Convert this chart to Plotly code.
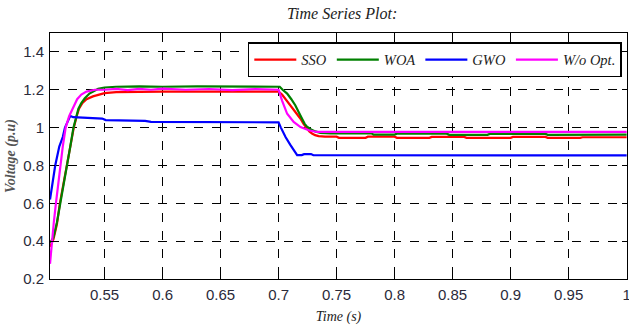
import plotly.graph_objects as go

# ---- data ----
sso_t = [0.503, 0.506, 0.509, 0.5115, 0.5145, 0.5175, 0.5205, 0.5235, 0.526, 0.528, 0.531, 0.5345, 0.54, 0.545,
         0.55, 0.56, 0.58, 0.60, 0.63, 0.66, 0.69, 0.700, 0.703, 0.706, 0.709, 0.7117, 0.715, 0.7189, 0.7215,
         0.7245, 0.7265, 0.7288, 0.7315, 0.7345, 0.740, 0.750, 0.752, 0.775, 0.777, 0.80, 0.802, 0.83, 0.832,
         0.86, 0.862, 0.90, 0.902, 0.93, 0.932, 0.96, 0.962, 1.0]
sso_v = [0.37, 0.41, 0.49, 0.60, 0.70, 0.80, 0.90, 1.00, 1.06, 1.10, 1.13, 1.15, 1.165, 1.175,
         1.182, 1.188, 1.19, 1.19, 1.19, 1.19, 1.19, 1.19, 1.175, 1.151, 1.13, 1.108, 1.08, 1.047, 1.02,
         0.995, 0.98, 0.969, 0.96, 0.955, 0.952, 0.952, 0.946, 0.946, 0.952, 0.952, 0.946, 0.946, 0.951,
         0.951, 0.946, 0.946, 0.951, 0.951, 0.946, 0.946, 0.949, 0.949]

woa_t = [0.503, 0.506, 0.509, 0.512, 0.5148, 0.5177, 0.5205, 0.5232, 0.5255, 0.5275, 0.530, 0.533, 0.537,
         0.541, 0.5445, 0.55, 0.56, 0.58, 0.60, 0.63, 0.66, 0.69, 0.701, 0.7035, 0.7074, 0.711, 0.7145,
         0.7175, 0.7202, 0.7225, 0.7245, 0.728, 0.7317, 0.736, 0.745, 0.78, 0.782, 0.80, 0.802, 0.845,
         0.847, 0.88, 0.882, 0.93, 0.932, 0.96, 0.962, 1.0]
woa_v = [0.39, 0.42, 0.50, 0.60, 0.70, 0.80, 0.90, 1.00, 1.06, 1.10, 1.13, 1.155, 1.18,
         1.195, 1.205, 1.212, 1.216, 1.218, 1.216, 1.218, 1.216, 1.217, 1.216, 1.20, 1.18, 1.15, 1.117,
         1.08, 1.047, 1.02, 1.005, 0.99, 0.98, 0.972, 0.970, 0.970, 0.963, 0.963, 0.968, 0.968,
         0.962, 0.962, 0.967, 0.967, 0.962, 0.962, 0.963, 0.963]

gwo_t = [0.503, 0.505, 0.5075, 0.511, 0.514, 0.5159, 0.519, 0.5205, 0.523, 0.53, 0.54, 0.548, 0.551, 0.57,
         0.585, 0.59, 0.62, 0.64, 0.70, 0.702, 0.706, 0.710, 0.714, 0.716, 0.72, 0.722, 0.728, 0.73, 1.0]
gwo_v = [0.62, 0.70, 0.80, 0.90, 0.95, 1.00, 1.045, 1.062, 1.055, 1.052, 1.05, 1.048, 1.04, 1.038,
         1.036, 1.03, 1.03, 1.028, 1.028, 1.00, 0.95, 0.91, 0.87, 0.855, 0.855, 0.86, 0.86, 0.854, 0.853]

wo_t = [0.503, 0.5045, 0.5063, 0.5081, 0.510, 0.512, 0.514, 0.5165, 0.5195, 0.5225, 0.5264, 0.530, 0.5344,
        0.5416, 0.55, 0.56, 0.57, 0.58, 0.59, 0.60, 0.62, 0.64, 0.66, 0.68, 0.700, 0.703, 0.7074, 0.713,
        0.7189, 0.726, 0.733, 0.76, 0.80, 0.85, 0.90, 0.95, 1.0]
wo_v = [0.28, 0.40, 0.50, 0.60, 0.70, 0.80, 0.90, 1.00, 1.06, 1.10, 1.15, 1.175, 1.19,
        1.20, 1.20, 1.205, 1.198, 1.205, 1.20, 1.206, 1.20, 1.204, 1.198, 1.203, 1.20, 1.143, 1.073, 1.03,
        1.003, 0.986, 0.977, 0.978, 0.977, 0.978, 0.977, 0.978, 0.977]

x_ticks = [0.55, 0.6, 0.65, 0.7, 0.75, 0.8, 0.85, 0.9, 0.95, 1.0]
x_labels = ["0.55", "0.6", "0.65", "0.7", "0.75", "0.8", "0.85", "0.9", "0.95", "1"]
y_ticks = [0.2, 0.4, 0.6, 0.8, 1.0, 1.2, 1.4]
y_labels = ["0.2", "0.4", "0.6", "0.8", "1", "1.2", "1.4"]

series = [("SSO", sso_t, sso_v, "#ff0000"),
          ("WOA", woa_t, woa_v, "#008000"),
          ("GWO", gwo_t, gwo_v, "#0000ff"),
          ("W/o Opt.", wo_t, wo_v, "#ff00ff")]

fig = go.Figure()
for name, t, v, c in series:
    fig.add_trace(go.Scatter(x=t, y=v, mode="lines", name=name,
                             line=dict(color=c, width=2.2)))

serif = "Liberation Serif"
sans = "Liberation Sans"

axis_common = dict(showline=True, linecolor="black", linewidth=1, mirror="ticks",
                   ticks="inside", ticklen=5, tickcolor="black", automargin=False,
                   showgrid=True, gridcolor="black", gridwidth=1, griddash="dash",
                   zeroline=False, ticklabeloverflow="allow",
                   tickfont=dict(family=sans, size=15, color="#2a2a3a"))

fig.update_xaxes(range=[0.503, 1.0003], tickvals=x_ticks, ticktext=x_labels, ticklabelstandoff=2,
                 title=dict(text="<i>Time (s)</i>", font=dict(family=serif, size=14, color="#222"), standoff=9),
                 **axis_common)
fig.update_yaxes(range=[0.2, 1.5], tickvals=y_ticks, ticktext=y_labels, ticklabelstandoff=2,
                 title=dict(text="<i><b>Voltage (p.u)</b></i>", font=dict(family=serif, size=14, color="#555"), standoff=4),
                 **axis_common)

fig.update_layout(
    width=629, height=328,
    margin=dict(l=50, r=2, t=33, b=49),
    paper_bgcolor="white", plot_bgcolor="white",
    title=dict(text="<i>Time Series Plot:</i>", x=0.544, xanchor="center",
               y=0.959, yanchor="middle", automargin=False,
               font=dict(family=serif, size=16, color="#222")),
    legend=dict(orientation="h", x=0.991, y=0.963, xanchor="right", yanchor="top",
                bgcolor="white", bordercolor="black", borderwidth=1.5,
                font=dict(family=serif, size=14.5, color="#222", style="italic"),
                itemwidth=42),
    showlegend=True,
)

fig.write_html("out.html", config={"displayModeBar": False},
               post_script="document.body.style.margin='0';document.body.style.overflow='hidden';")
